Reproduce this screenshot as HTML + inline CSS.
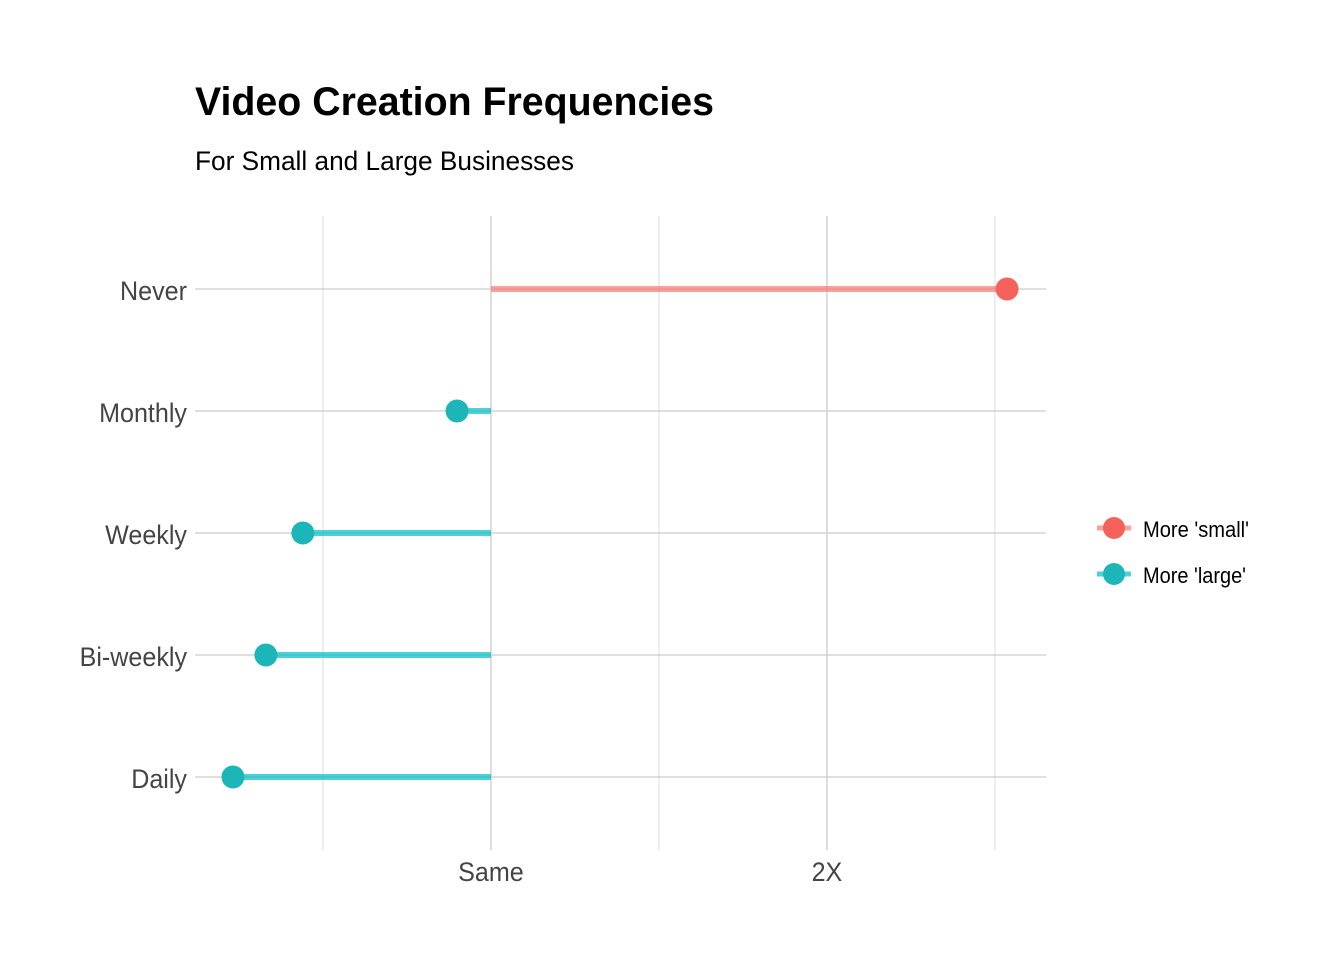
<!DOCTYPE html>
<html><head><meta charset="utf-8"><style>
body{margin:0;background:#fff;}
svg{display:block;font-family:"Liberation Sans",sans-serif;}
</style></head><body>
<svg id="chart" width="1344" height="960">
<text x="195" y="115" font-size="40" font-weight="bold" fill="#000" textLength="519" lengthAdjust="spacingAndGlyphs">Video Creation Frequencies</text>
<text x="195" y="170" font-size="27" fill="#000" textLength="379" lengthAdjust="spacingAndGlyphs">For Small and Large Businesses</text>
<g id="grid"></g><g id="marks"></g><g id="axes"></g>
<g>
<g>
<line x1="1097" x2="1131" y1="528" y2="528" stroke="#F8766D" stroke-opacity="0.7" stroke-width="5"/>
<circle cx="1114" cy="528" r="11" fill="#F5625C"/>
<text x="1143" y="537" font-size="22" fill="#000" textLength="106" lengthAdjust="spacingAndGlyphs">More 'small'</text></g>
<g>
<line x1="1097" x2="1131" y1="574" y2="574" stroke="#00BFC4" stroke-opacity="0.7" stroke-width="5"/>
<circle cx="1114" cy="574" r="11" fill="#1CB5B8"/>
<text x="1143" y="583" font-size="22" fill="#000" textLength="103" lengthAdjust="spacingAndGlyphs">More 'large'</text></g>
</g>
</svg>
<script>
const categories = ["Never","Monthly","Weekly","Bi-weekly","Daily"];
const values = [2.536, 0.899, 0.44, 0.33, 0.232];
const majorTicks = [1, 2];
const tickLabels = ["Same", "2X"];
const minorTicks = [0.5, 1.5, 2.5];
const baseline = 1;

const ns = "http://www.w3.org/2000/svg";
const X0 = 195, X1 = 1046, D0 = 0.119, D1 = 2.652;
const x = v => X0 + (v - D0) / (D1 - D0) * (X1 - X0);
const Ytop = 289, Ystep = 122;
const y = i => Ytop + i * Ystep;
function mk(tag, attrs, parent){const e=document.createElementNS(ns,tag);for(const k in attrs)e.setAttribute(k,attrs[k]);parent.appendChild(e);return e;}
function squeeze(t){const w=t.getComputedTextLength();t.setAttribute('textLength',(w*0.93).toFixed(1));t.setAttribute('lengthAdjust','spacingAndGlyphs');}
const grid=document.getElementById('grid'), marks=document.getElementById('marks'), axes=document.getElementById('axes');
minorTicks.forEach(t=>{
  const l=mk('line',{x1:x(t),x2:x(t),y1:216,y2:850,stroke:'#ddd','stroke-width':1},grid);
  
  
});
majorTicks.forEach((t,i)=>{
  const l=mk('line',{x1:x(t),x2:x(t),y1:216,y2:850,stroke:'#ccc','stroke-width':1.3},grid);
  
  
  const tx=mk('text',{x:x(t),y:881,'font-size':27,fill:'#444','text-anchor':'middle'},axes);
  tx.textContent=tickLabels[i];
  
  
  squeeze(tx);
});
categories.forEach((c,i)=>{
  const g=mk('line',{x1:195,x2:1046,y1:y(i),y2:y(i),stroke:'#ccc','stroke-width':1.3},grid);
  
  
  const tx=mk('text',{x:187,y:y(i)+11,'font-size':27,fill:'#444','text-anchor':'end'},axes);
  tx.textContent=c;
  
  
  squeeze(tx);
  const col = values[i] >= baseline ? '#F8766D' : '#00BFC4';
  const pcol = values[i] >= baseline ? '#F5625C' : '#1CB5B8';
  const seg=mk('line',{x1:x(baseline),x2:x(values[i]),y1:y(i),y2:y(i),stroke:col,'stroke-opacity':0.7,'stroke-width':6},marks);
  
  
  const p=mk('circle',{cx:x(values[i]),cy:y(i),r:11.5,fill:pcol},marks);
  
  
});
</script>
</body></html>
